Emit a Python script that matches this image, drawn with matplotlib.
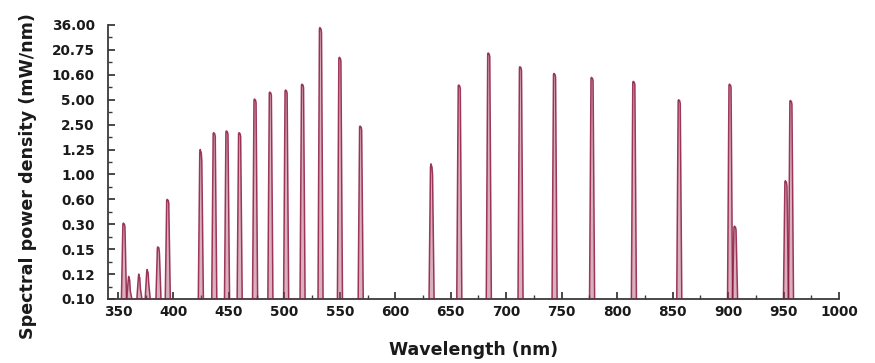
import numpy as np
import matplotlib
matplotlib.use("Agg")
import matplotlib.pyplot as plt
from matplotlib.ticker import FixedLocator, FixedFormatter

# ---- data ----
peak_wavelengths = [355.4, 360.2, 369.3, 376.8, 386.5, 394.9, 424.7, 436.8, 448.3,
                    459.7, 473.6, 487.4, 501.6, 516.4, 532.6, 550.1, 568.8, 632.7,
                    657.7, 684.3, 712.9, 743.6, 777.4, 815.1, 856.0, 901.8, 906.3,
                    952.2, 956.7]
peak_heights = [0.31, 0.118, 0.12, 0.125, 0.16, 0.60, 1.25, 2.0, 2.1,
                2.0, 5.1, 6.3, 6.7, 8.0, 34.0, 17.0, 2.4, 1.1,
                7.8, 19.1, 13.2, 11.0, 9.8, 8.7, 5.0, 8.0, 0.285,
                0.88, 4.9]
y_tick_values = [0.10, 0.12, 0.15, 0.30, 0.60, 1.00, 1.25, 2.50, 5.00, 10.60, 20.75, 36.00]
x_ticks = [350, 400, 450, 500, 550, 600, 650, 700, 750, 800, 850, 900, 950, 1000]

# ---- custom equally spaced y scale ----
log_t = np.log(np.array(y_tick_values))
idx = np.arange(len(y_tick_values), dtype=float)

def fwd(v):
    v = np.clip(np.asarray(v, dtype=float), 1e-6, None)
    return np.interp(np.log(v), log_t, idx)

def inv(i):
    i = np.asarray(i, dtype=float)
    return np.exp(np.interp(i, idx, log_t))

plt.rcParams['font.family'] = ['DejaVu Sans']
plt.rcParams['font.weight'] = 'bold'

fig = plt.figure(figsize=(8.75, 3.63), dpi=100)
ax = fig.add_axes([108/875, 1-299/363, (839-108)/875, (299-25)/363])
ax.set_yscale('function', functions=(fwd, inv))

edge = '#8c1a42'
fillc = '#b0506f'
base = y_tick_values[0]
for c, h in zip(peak_wavelengths, peak_heights):
    xs = np.array([c - 2.3, c - 1.0, c - 0.6, c + 0.4, c + 0.9, c + 2.3])
    ys = np.array([base, h * 0.97, h, h * 0.97, h * 0.9, base])
    ax.fill(xs, ys, facecolor=fillc, alpha=0.45, edgecolor='none', zorder=2)
    ax.plot(xs, ys, color=edge, lw=1.1, alpha=0.85, zorder=3)

ax.set_xlim(341, 1000)
ax.set_ylim(0.10, 36.0)

ax.yaxis.set_major_locator(FixedLocator(y_tick_values))
ax.yaxis.set_major_formatter(FixedFormatter([f"{v:.2f}" for v in y_tick_values]))
ax.yaxis.set_minor_locator(FixedLocator(list(inv(idx[:-1] + 0.5))))
ax.xaxis.set_major_locator(FixedLocator(x_ticks))
ax.xaxis.set_minor_locator(FixedLocator(list(np.arange(375, 1000, 50))))

for s in ['top', 'right']:
    ax.spines[s].set_visible(False)
for s in ['left', 'bottom']:
    ax.spines[s].set_color('#3a3a3a')
    ax.spines[s].set_linewidth(1.3)

ax.tick_params(axis='both', which='major', direction='in', length=5, width=1.3,
               color='#3a3a3a', labelsize=9.8, labelcolor='#1a1a1a')
ax.tick_params(axis='both', which='minor', direction='in', length=3, width=1.0, color='#3a3a3a')
ax.tick_params(axis='y', which='major', pad=9.5)
ax.tick_params(axis='x', which='major', pad=4)
for lab in ax.get_xticklabels() + ax.get_yticklabels():
    lab.set_fontweight('bold')

ax.set_xlabel('Wavelength (nm)', fontsize=12.5, fontweight='bold', color='#1a1a1a')
ax.set_ylabel('Spectral power density (mW/nm)', fontsize=12.6, fontweight='bold', color='#1a1a1a')
ax.xaxis.set_label_coords(0.5, -0.153)
ax.yaxis.set_label_coords(-0.097, 0.45)

fig.savefig('out.png', dpi=100)
